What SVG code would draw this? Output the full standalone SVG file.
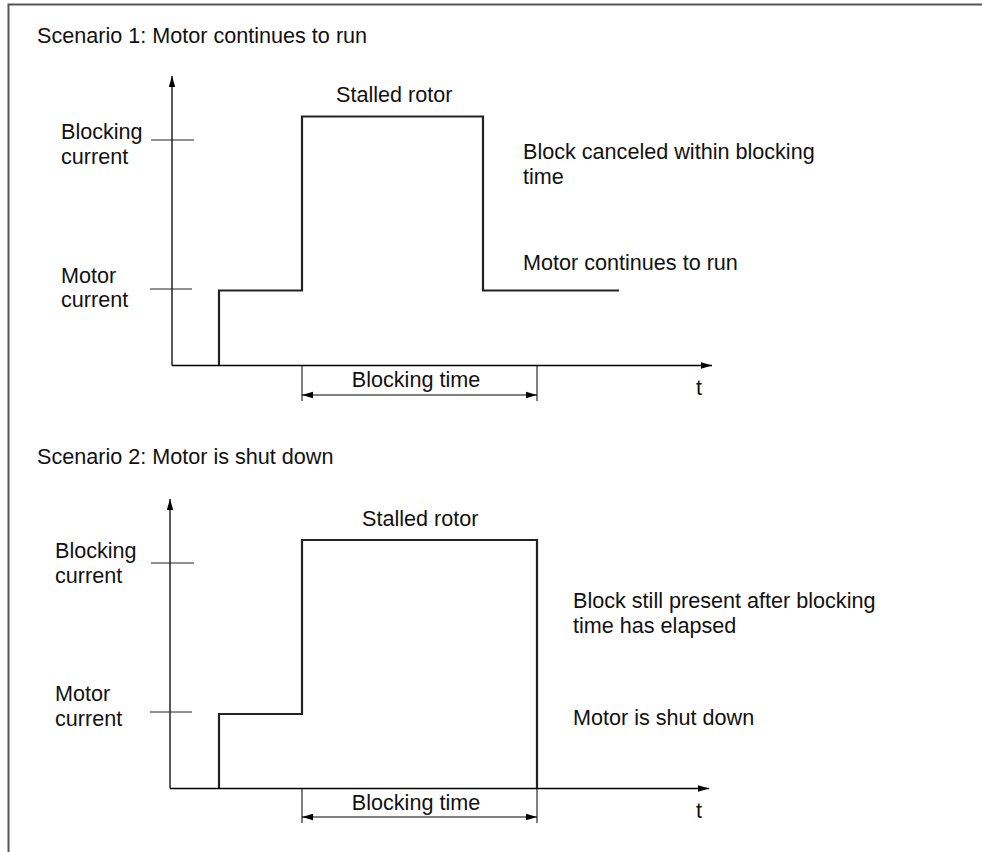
<svg xmlns="http://www.w3.org/2000/svg" width="982" height="852" viewBox="0 0 982 852">
<defs>
<marker id="ah" markerWidth="12" markerHeight="8" refX="11" refY="4" orient="auto-start-reverse" markerUnits="userSpaceOnUse">
<path d="M0,0.8 L11,4 L0,7.2 Z" fill="#000"/>
</marker>
<style>
text{font-family:"Liberation Sans",Arial,sans-serif;font-size:21.6px;fill:#111}
.ax{stroke:#000;stroke-width:1.3;fill:none}
.tk{stroke:#222;stroke-width:1;fill:none}
.sig{stroke:#222;stroke-width:2.2;fill:none;stroke-linejoin:miter}
.dim{stroke:#000;stroke-width:1;fill:none}
</style>
</defs>
<rect width="982" height="852" fill="#fff"/>
<path d="M8.5,852 V4.5 H982" fill="none" stroke="#555" stroke-width="2"/>

<g id="scenario1">
<text x="37" y="43">Scenario 1: Motor continues to run</text>
<g id="s1-axes">
<line class="ax" x1="172" y1="365.5" x2="172" y2="76" marker-end="url(#ah)"/>
<line class="ax" x1="172" y1="365.5" x2="712" y2="365.5" marker-end="url(#ah)"/>
<text x="696" y="395">t</text>
</g>
<g id="s1-ticks">
<line class="tk" x1="151" y1="140" x2="194" y2="140"/>
<line class="tk" x1="150" y1="289" x2="192" y2="289"/>
<text x="61" y="139">Blocking</text>
<text x="61" y="164">current</text>
<text x="61" y="283">Motor</text>
<text x="61" y="307">current</text>
</g>
<g id="s1-signal">
<path class="sig" d="M219,365 V290.5 H302 V116.5 H483 V290.5 H619"/>
<text x="336" y="102">Stalled rotor</text>
<text x="523" y="159">Block canceled within blocking</text>
<text x="523" y="184">time</text>
<text x="523" y="270">Motor continues to run</text>
</g>
<g id="s1-blocking-time">
<line class="dim" x1="302" y1="366" x2="302" y2="401"/>
<line class="dim" x1="537" y1="366" x2="537" y2="401"/>
<line class="dim" x1="302" y1="395" x2="537" y2="395" marker-start="url(#ah)" marker-end="url(#ah)"/>
<text x="416" y="387" text-anchor="middle">Blocking time</text>
</g>
</g>

<g id="scenario2">
<text x="37" y="464">Scenario 2: Motor is shut down</text>
<g id="s2-axes">
<line class="ax" x1="170" y1="788.5" x2="170" y2="499" marker-end="url(#ah)"/>
<line class="ax" x1="170" y1="788.5" x2="709" y2="788.5" marker-end="url(#ah)"/>
<text x="696" y="818">t</text>
</g>
<g id="s2-ticks">
<line class="tk" x1="151" y1="563" x2="194" y2="563"/>
<line class="tk" x1="150" y1="712" x2="192" y2="712"/>
<text x="55" y="558">Blocking</text>
<text x="55" y="583">current</text>
<text x="55" y="701">Motor</text>
<text x="55" y="726">current</text>
</g>
<g id="s2-signal">
<path class="sig" d="M219,788 V714 H302 V540 H537 V788"/>
<text x="362" y="526">Stalled rotor</text>
<text x="573" y="608">Block still present after blocking</text>
<text x="573" y="633">time has elapsed</text>
<text x="573" y="725">Motor is shut down</text>
</g>
<g id="s2-blocking-time">
<line class="dim" x1="302" y1="789" x2="302" y2="823"/>
<line class="dim" x1="537" y1="789" x2="537" y2="823"/>
<line class="dim" x1="302" y1="817" x2="537" y2="817" marker-start="url(#ah)" marker-end="url(#ah)"/>
<text x="416" y="810" text-anchor="middle">Blocking time</text>
</g>
</g>
</svg>
